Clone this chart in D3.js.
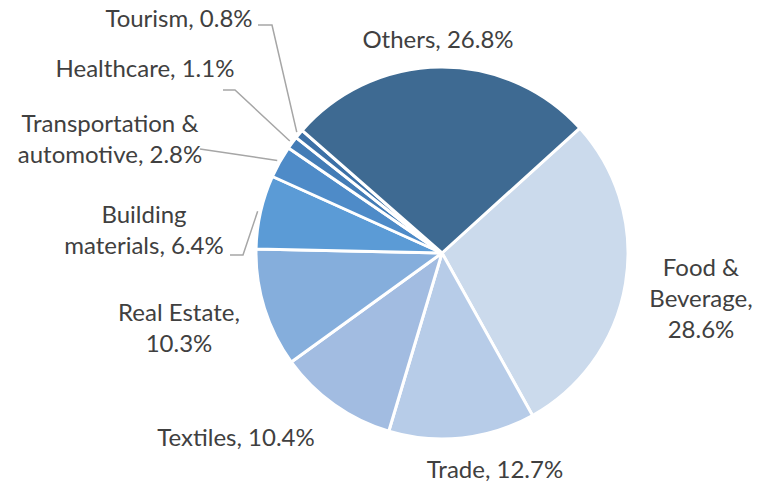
<!DOCTYPE html>
<html>
<head>
<meta charset="utf-8">
<script src="https://cdn.jsdelivr.net/npm/d3@7"></script>
<style>
  body { margin: 0; background: #fff; }
  text { font-family: Lato, "Open Sans", sans-serif; fill: #404040; }
</style>
</head>
<body>
<div id="chart"></div>
<script>
// sectors, clockwise from the "Others" / "Food & Beverage" edge
const sectors = ["Food & Beverage", "Trade", "Textiles", "Real Estate", "Building materials",
                 "Transportation & automotive", "Healthcare", "Tourism", "Others"];
const shares = [28.6, 12.7, 10.4, 10.3, 6.4, 2.8, 1.1, 0.8, 26.8];
const colors = ["#CBDAEC", "#B7CCE8", "#A2BCE1", "#85AEDC", "#5B9BD6",
                "#4E8BC8", "#437CB6", "#3C70A6", "#3E6A92"];

// label layout (how each label is broken and where it sits)
const labelLayout = {
  "Food & Beverage":            {x: 701, y: 276, lines: ["Food &", "Beverage,"]},
  "Trade":                      {x: 495, y: 478, lines: ["Trade,"], inline: true},
  "Textiles":                   {x: 236, y: 446, lines: ["Textiles,"], inline: true},
  "Real Estate":                {x: 179, y: 321, lines: ["Real Estate,"]},
  "Building materials":         {x: 144, y: 223, lines: ["Building", "materials,"], inline: true, elbow: [[230, 255], [243, 255]]},
  "Transportation & automotive":{x: 110, y: 132, lines: ["Transportation &", "automotive,"], inline: true, elbow: [[200, 149]]},
  "Healthcare":                 {x: 145, y: 77, lines: ["Healthcare,"], inline: true, elbow: [[223, 90], [235, 90]]},
  "Tourism":                    {x: 179, y: 27, lines: ["Tourism,"], inline: true, elbow: [[258, 25], [272, 25]]},
  "Others":                     {x: 438, y: 48, lines: ["Others,"], inline: true}
};

const width = 760, height = 487;
const cx = 442, cy = 253, radius = 186;
const lineH = 31;

const svg = d3.select("#chart").append("svg")
    .attr("width", width)
    .attr("height", height);

const startA = 47.8 * Math.PI / 180;
const pie = d3.pie()
    .sort(null)
    .value(d => d.v)
    .startAngle(startA)
    .endAngle(startA + 2 * Math.PI);

const data = sectors.map((s, i) => ({name: s, v: shares[i], color: colors[i]}));
const arcs = pie(data);

const arc = d3.arc().innerRadius(0).outerRadius(radius);

const g = svg.append("g").attr("transform", `translate(${cx},${cy})`);

g.selectAll("path.slice")
  .data(arcs)
  .enter()
  .append("path")
    .attr("class", "slice")
    .attr("d", arc)
    .attr("fill", d => d.data.color)
    .attr("stroke", "#fff")
    .attr("stroke-width", 3)
    .attr("stroke-linejoin", "round");

// leader lines for the small slices
arcs.forEach(d => {
  const lay = labelLayout[d.data.name];
  if (!lay.elbow) return;
  const a = (d.startAngle + d.endAngle) / 2;
  const end = [cx + (radius + 3) * Math.sin(a), cy - (radius + 3) * Math.cos(a)];
  const pts = lay.elbow.concat([end]);
  svg.append("path")
    .attr("d", d3.line()(pts))
    .attr("fill", "none")
    .attr("stroke", "#A6A6A6")
    .attr("stroke-width", 1.5);
});

// labels
arcs.forEach(d => {
  const lay = labelLayout[d.data.name];
  const pct = d.data.v.toFixed(1) + "%";
  const lines = lay.lines.slice();
  if (lay.inline) lines[lines.length - 1] += " " + pct;
  else lines.push(pct);
  const t = svg.append("text")
    .attr("text-anchor", "middle")
    .style("font-size", "24px");
  lines.forEach((ln, i) => {
    t.append("tspan")
      .attr("x", lay.x)
      .attr("y", lay.y + i * lineH)
      .text(ln);
  });
});
</script>
</body>
</html>
